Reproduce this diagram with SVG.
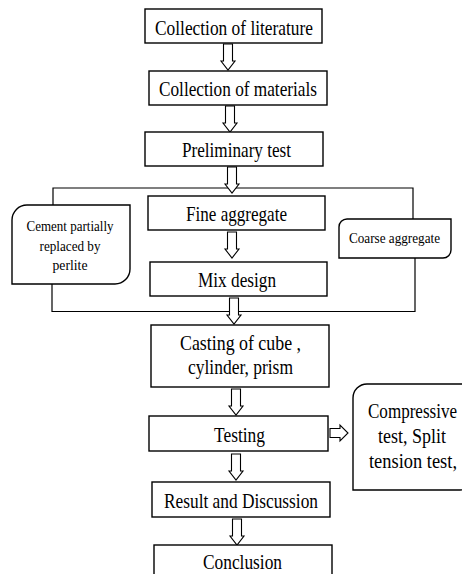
<svg xmlns="http://www.w3.org/2000/svg" width="462" height="574" viewBox="0 0 462 574">
<defs>
<style>
.box{fill:#fff;stroke:#000;stroke-width:1.4}
.t{font-family:"Liberation Serif","Times New Roman",serif;font-size:21px;fill:#000;text-anchor:middle}
.s{font-family:"Liberation Serif","Times New Roman",serif;font-size:15px;fill:#000;text-anchor:middle}
.ln{fill:none;stroke:#000;stroke-width:1.2}
.ar{fill:#fff;stroke:#000;stroke-width:1.1;stroke-linejoin:miter}
</style>
<path id="darr" d="M-4.5,0 V17 H-7 L0,26 L7,17 H4.5 V0 Z"/>
</defs>
<rect width="462" height="574" fill="#fff"/>
<g id="connectors">
<path class="ln" d="M53,205 V188 H413 V219"/>
<path class="ln" d="M52,280 V311.5 H415 V258"/>
<use href="#darr" class="ar" x="228" y="44"/>
<use href="#darr" class="ar" x="230" y="106"/>
<use href="#darr" class="ar" x="232" y="167"/>
<use href="#darr" class="ar" x="232" y="232"/>
<use href="#darr" class="ar" x="234" y="298"/>
<use href="#darr" class="ar" x="236" y="389"/>
<use href="#darr" class="ar" x="236" y="454"/>
<use href="#darr" class="ar" x="237" y="519"/>
<path class="ar" d="M330,428.5 H340 V425 L348,433 L340,441 V437.5 H330 Z"/>
</g>
<g id="n1"><rect class="box" x="145" y="9" width="177" height="34"/><text class="t" x="234" y="35" textLength="158" lengthAdjust="spacingAndGlyphs">Collection of literature</text></g>
<g id="n2"><rect class="box" x="149" y="71" width="178" height="34"/><text class="t" x="238" y="96" textLength="158" lengthAdjust="spacingAndGlyphs">Collection of materials</text></g>
<g id="n3"><rect class="box" x="145" y="132" width="178" height="34"/><text class="t" x="236.5" y="157" textLength="109" lengthAdjust="spacingAndGlyphs">Preliminary test</text></g>
<g id="n4"><rect class="box" x="148" y="196" width="177" height="34"/><text class="t" x="236.5" y="221" textLength="101" lengthAdjust="spacingAndGlyphs">Fine aggregate</text></g>
<g id="n5"><rect class="box" x="150" y="262" width="177" height="34"/><text class="t" x="237" y="287" textLength="78" lengthAdjust="spacingAndGlyphs">Mix design</text></g>
<g id="n6"><path class="box" d="M27,205 H130 V269 A15,15 0 0 1 115,284 H12 V220 A15,15 0 0 1 27,205 Z"/>
<text class="s" x="70" y="231" textLength="87" lengthAdjust="spacingAndGlyphs">Cement partially</text><text class="s" x="70" y="251" textLength="61" lengthAdjust="spacingAndGlyphs">replaced by</text><text class="s" x="70" y="270" textLength="35" lengthAdjust="spacingAndGlyphs">perlite</text></g>
<g id="n7"><path class="box" d="M347,219 H451 V250 A8,8 0 0 1 443,258 H339 V227 A8,8 0 0 1 347,219 Z"/>
<text class="s" x="394.5" y="243" textLength="91" lengthAdjust="spacingAndGlyphs">Coarse aggregate</text></g>
<g id="n8"><rect class="box" x="151" y="325" width="178" height="62"/><text class="t" x="240.5" y="350" textLength="121" lengthAdjust="spacingAndGlyphs">Casting of cube ,</text><text class="t" x="240.5" y="374" textLength="105" lengthAdjust="spacingAndGlyphs">cylinder, prism</text></g>
<g id="n9"><rect class="box" x="149" y="416" width="179" height="35"/><text class="t" x="239.5" y="442" textLength="51" lengthAdjust="spacingAndGlyphs">Testing</text></g>
<g id="n10"><path class="box" d="M367,384 H475 V475 A15,15 0 0 1 460,490 H353 V398 A14,14 0 0 1 367,384 Z"/>
<text class="t" x="412.5" y="418" textLength="89" lengthAdjust="spacingAndGlyphs">Compressive</text><text class="t" x="412" y="443" textLength="68" lengthAdjust="spacingAndGlyphs">test, Split</text><text class="t" x="413" y="468" textLength="88" lengthAdjust="spacingAndGlyphs">tension test,</text></g>
<g id="n11"><rect class="box" x="152" y="482" width="178" height="35"/><text class="t" x="241" y="508" textLength="154" lengthAdjust="spacingAndGlyphs">Result and Discussion</text></g>
<g id="n12"><rect class="box" x="154" y="545" width="178" height="40"/><text class="t" x="242.5" y="569" textLength="79" lengthAdjust="spacingAndGlyphs">Conclusion</text></g>
</svg>
